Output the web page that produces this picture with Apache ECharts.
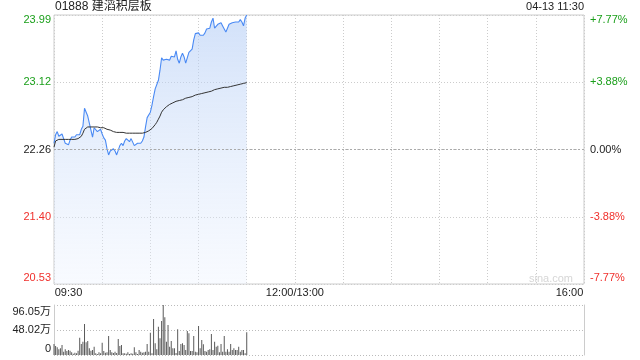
<!DOCTYPE html>
<html><head><meta charset="utf-8">
<script src="https://cdn.jsdelivr.net/npm/echarts@6/dist/echarts.min.js"></script>
<style>html,body{margin:0;padding:0;background:#fff}#c{width:640px;height:360px}</style>
</head><body><div id="c"></div>
<script>
const titleText = '01888 建滔积层板';
const dateTimeText = '04-13 11:30';
const watermarkText = 'sina.com';
const prevClose = 22.26;
const priceMin = 20.53, priceMax = 23.99;
const priceLabels = ['20.53', '21.40', '22.26', '23.12', '23.99'];
const pctLabels = ['-7.77%', '-3.88%', '0.00%', '+3.88%', '+7.77%'];
const volMax = 96.05;
const volLabels = ['0', '48.02万', '96.05万'];
const totalMinutes = 330;
const timeTickMinutes = [0, 150, 330];
const timeLabels = ['09:30', '12:00/13:00', '16:00'];

const priceData = [
 22.34,22.45,22.49,22.43,22.45,22.46,22.40,22.34,22.32,22.32,
 22.38,22.42,22.41,22.42,22.45,22.43,22.45,22.52,22.56,22.79,
 22.77,22.69,22.60,22.51,22.42,22.54,22.52,22.49,22.49,22.52,
 22.46,22.41,22.38,22.27,22.19,22.24,22.23,22.27,22.24,22.19,
 22.20,22.31,22.34,22.31,22.37,22.40,22.41,22.36,22.40,22.38,
 22.31,22.33,22.34,22.32,22.34,22.37,22.42,22.55,22.67,22.69,
 22.74,22.83,22.94,23.04,23.06,23.15,23.28,23.44,23.41,23.42,
 23.42,23.44,23.41,23.46,23.45,23.45,23.53,23.42,23.37,23.45,
 23.50,23.45,23.37,23.35,23.51,23.50,23.55,23.67,23.75,23.75,
 23.76,23.73,23.75,23.73,23.76,23.81,23.82,23.82,23.90,23.95,
 23.82,23.80,23.87,23.85,23.89,23.85,23.81,23.77,23.82,23.87,
 23.86,23.89,23.90,23.90,23.90,23.90,23.93,23.90,23.85,23.95,
 23.99];

const avgData = [
 22.29,22.37,22.39,22.39,22.39,22.39,22.39,22.39,22.39,22.39,
 22.39,22.39,22.39,22.39,22.39,22.40,22.41,22.43,22.47,22.52,
 22.54,22.55,22.55,22.55,22.55,22.55,22.55,22.55,22.55,22.54,
 22.54,22.54,22.53,22.52,22.51,22.51,22.50,22.49,22.49,22.48,
 22.48,22.48,22.48,22.48,22.47,22.47,22.47,22.47,22.47,22.47,
 22.47,22.47,22.47,22.47,22.47,22.47,22.47,22.48,22.49,22.50,
 22.51,22.53,22.55,22.58,22.61,22.65,22.69,22.74,22.77,22.79,
 22.81,22.83,22.84,22.85,22.86,22.87,22.88,22.88,22.89,22.90,
 22.90,22.91,22.92,22.92,22.93,22.94,22.94,22.95,22.96,22.96,
 22.97,22.97,22.98,22.99,22.99,23.00,23.00,23.01,23.01,23.02,
 23.03,23.03,23.04,23.04,23.05,23.05,23.06,23.06,23.06,23.07,
 23.07,23.08,23.08,23.09,23.09,23.10,23.10,23.11,23.11,23.12,
 23.12];

const volData = [
 21.1,17.3,14.7,10.9,12.8,19.2,6.4,10.9,7.7,9.6,
 8.3,5.1,2.6,4.5,3.2,8.3,33.3,21.1,25.6,59.5,
 24.3,26.9,12.8,8.3,9.6,16.0,3.2,1.9,5.1,3.2,
 23.7,7.7,4.5,5.1,36.5,9.6,5.1,3.8,6.4,3.8,
 30.7,17.3,19.2,3.2,3.2,2.6,5.1,1.9,3.2,2.6,
 14.7,5.1,1.9,9.6,6.4,4.5,5.1,6.4,21.1,6.4,
 42.9,3.2,69.2,22.4,10.9,54.4,32.0,65.3,96.05,72.4,
 25.6,57.6,16.0,26.9,12.8,12.8,3.8,49.3,7.7,21.1,
 22.4,19.2,9.6,46.1,41.6,7.7,7.7,36.5,6.4,5.1,
 55.7,12.8,28.8,20.5,7.7,6.4,9.6,10.9,40.3,9.6,
 25.6,16.0,17.9,5.1,21.1,6.4,36.5,6.4,10.9,6.4,
 21.1,9.6,12.8,9.6,9.6,16.0,6.4,9.6,9.6,3.2,
 43.5];

const FONT = '"Liberation Sans", Arial, "Noto Sans CJK SC", sans-serif';
const GREEN = '#1a9f1a', RED = '#f0302c', BLACK = '#222';
const priceStep = (priceMax - priceMin) / 4;
const volStep = volMax / 2;
const idxOf = (v, min, step) => Math.round((v - min) / step);

const toPairs = arr => arr.map((v, i) => [i, v]);

const priceRich = {
  gt: {color: GREEN, padding: [10, 0, 0, 0], fontSize: 11, fontFamily: FONT},
  g: {color: GREEN, fontSize: 11, fontFamily: FONT},
  k: {color: BLACK, fontSize: 11, fontFamily: FONT},
  r: {color: RED, fontSize: 11, fontFamily: FONT},
  rb: {color: RED, padding: [0, 0, 13, 0], fontSize: 11, fontFamily: FONT}
};
const clsFor = i => ['rb', 'r', 'k', 'g', 'gt'][i];

const chart = echarts.init(document.getElementById('c'));
chart.setOption({
  animation: false,
  textStyle: {fontFamily: FONT},
  graphic: [
    {type: 'text', left: 55, top: 1, style: {text: titleText, fill: BLACK, font: '12px ' + FONT}},
    {type: 'text', right: 56, top: 1, style: {text: dateTimeText, fill: BLACK, font: '11px ' + FONT}},
    {type: 'text', right: 67, top: 273, z: 0, style: {text: watermarkText, fill: '#d6d6d6', font: '11px ' + FONT}}
  ],
  grid: [
    {left: 54, top: 15, width: 530, height: 269, show: true, borderColor: '#ccc', borderWidth: 1},
    {left: 54, top: 305, width: 530, height: 50}
  ],
  xAxis: [
    {gridIndex: 0, type: 'value', min: 0, max: totalMinutes, interval: 30,
     axisLine: {show: false}, axisTick: {show: false},
     splitLine: {show: true, lineStyle: {color: '#ccc', type: [1, 2]}},
     axisLabel: {margin: 3, fontSize: 11, color: BLACK, showMinLabel: true, showMaxLabel: true,
       formatter: v => {
         const i = timeTickMinutes.indexOf(Math.round(v));
         if (i < 0) return '';
         const cls = i === 0 ? 'l' : (i === timeLabels.length - 1 ? 'rr' : 'c');
         return '{' + cls + '|' + timeLabels[i] + '}';
       },
       rich: {
         l: {padding: [0, 0, 0, 29], fontSize: 11, fontFamily: FONT, color: BLACK},
         c: {fontSize: 11, fontFamily: FONT, color: BLACK},
         rr: {padding: [0, 29, 0, 0], fontSize: 11, fontFamily: FONT, color: BLACK}
       }}},
    {gridIndex: 1, type: 'value', min: 0, max: totalMinutes, interval: 30,
     axisLine: {show: false}, axisTick: {show: false}, axisLabel: {show: false}, splitLine: {show: false}}
  ],
  yAxis: [
    {gridIndex: 0, type: 'value', position: 'left', min: priceMin, max: priceMax, interval: priceStep,
     axisLine: {show: false}, axisTick: {show: false},
     splitLine: {show: true, lineStyle: {color: '#ccc', type: [1, 2]}},
     axisLabel: {margin: 3, showMinLabel: true, showMaxLabel: true,
       formatter: v => { const i = idxOf(v, priceMin, priceStep); return '{' + clsFor(i) + '|' + priceLabels[i] + '}'; },
       rich: priceRich}},
    {gridIndex: 0, type: 'value', position: 'right', min: priceMin, max: priceMax, interval: priceStep,
     axisLine: {show: false}, axisTick: {show: false}, splitLine: {show: false},
     axisLabel: {margin: 6, showMinLabel: true, showMaxLabel: true,
       formatter: v => { const i = idxOf(v, priceMin, priceStep); return '{' + clsFor(i) + '|' + pctLabels[i] + '}'; },
       rich: priceRich}},
    {gridIndex: 1, type: 'value', position: 'left', min: 0, max: volMax, interval: volStep,
     axisLine: {show: true, lineStyle: {color: '#ccc'}}, axisTick: {show: false},
     splitLine: {show: true, lineStyle: {color: '#bbb', type: [1, 2]}},
     axisLabel: {margin: 3, showMinLabel: true, showMaxLabel: true,
       formatter: v => {
         const i = idxOf(v, 0, volStep);
         const cls = i === 0 ? 'b' : (i === 2 ? 't' : 'm');
         return '{' + cls + '|' + volLabels[i] + '}';
       },
       rich: {
         t: {padding: [13, 0, 0, 0], fontSize: 11, fontFamily: FONT, color: BLACK},
         m: {fontSize: 11, fontFamily: FONT, color: BLACK},
         b: {padding: [0, 0, 13, 0], fontSize: 11, fontFamily: FONT, color: BLACK}
       }}},
    {gridIndex: 1, type: 'value', position: 'right', min: 0, max: volMax, interval: volStep,
     axisLine: {show: true, lineStyle: {color: '#ccc'}}, axisTick: {show: false},
     axisLabel: {show: false}, splitLine: {show: false}}
  ],
  series: [
    {type: 'line', xAxisIndex: 0, yAxisIndex: 0, data: toPairs(priceData), symbol: 'none',
     lineStyle: {color: '#4a8af4', width: 1.1},
     areaStyle: {origin: 'start', color: new echarts.graphic.LinearGradient(0, 0, 0, 1, [
       {offset: 0, color: 'rgba(175,202,245,0.8)'}, {offset: 1, color: 'rgba(235,242,254,0.5)'}])},
     markLine: {silent: true, symbol: 'none', label: {show: false},
       lineStyle: {color: '#aaa', type: [2, 2], width: 1}, data: [{yAxis: prevClose}]},
     z: 3},
    {type: 'line', xAxisIndex: 0, yAxisIndex: 0, data: toPairs(avgData), symbol: 'none',
     lineStyle: {color: '#333', width: 1}, z: 4},
    {type: 'bar', xAxisIndex: 1, yAxisIndex: 2, data: toPairs(volData), barWidth: 1,
     itemStyle: {color: '#5a5a5a'}}
  ]
});
</script></body></html>
